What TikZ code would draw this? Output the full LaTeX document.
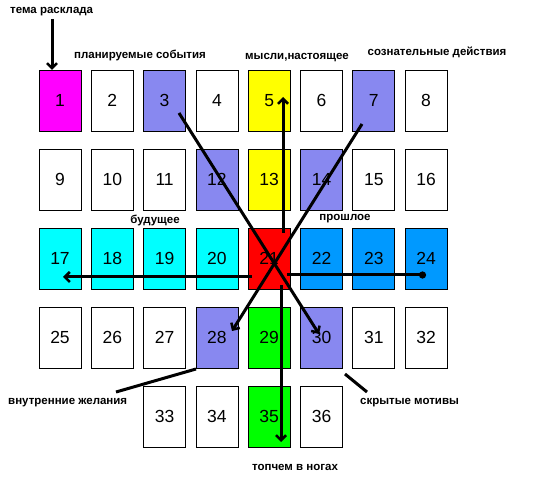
\documentclass[tikz,border=0pt]{standalone}
\usepackage{fontspec}
\setmainfont{Liberation Sans}
\usetikzlibrary{arrows.meta}
\definecolor{cmag}{RGB}{255,0,255}
\definecolor{cyel}{RGB}{255,255,0}
\definecolor{chat}{RGB}{136,136,240}
\definecolor{ccya}{RGB}{0,255,255}
\definecolor{cred}{RGB}{255,0,0}
\definecolor{cblu}{RGB}{0,153,255}
\definecolor{cgrn}{RGB}{0,255,0}
\tikzset{
  card/.style={draw=black, line width=0.8pt, minimum width=42pt, minimum height=61pt, inner sep=0pt, font=\fontsize{17.5}{18}\selectfont, fill=white},
  lbl/.style={font=\bfseries\fontsize{11.5}{12}\selectfont, inner sep=0pt},
  arr/.style={line width=3pt, -{Straight Barb[length=5pt,width=10pt,line width=2.5pt]}},
  dotarr/.style={line width=3pt, -{Circle[length=7pt]}},
  plain/.style={line width=3pt},
}
\begin{document}
\begin{tikzpicture}[x=1pt,y=-1pt]
\useasboundingbox (0,0) rectangle (549,478);
% cards
\foreach \n/\c/\r/\f in {1/0/0/cmag,2/1/0/white,3/2/0/chat,4/3/0/white,5/4/0/cyel,6/5/0/white,7/6/0/chat,8/7/0/white,
  9/0/1/white,10/1/1/white,11/2/1/white,12/3/1/chat,13/4/1/cyel,14/5/1/chat,15/6/1/white,16/7/1/white,
  17/0/2/ccya,18/1/2/ccya,19/2/2/ccya,20/3/2/ccya,21/4/2/cred,22/5/2/cblu,23/6/2/cblu,24/7/2/cblu,
  25/0/3/white,26/1/3/white,27/2/3/white,28/3/3/chat,29/4/3/cgrn,30/5/3/chat,31/6/3/white,32/7/3/white,
  33/2/4/white,34/3/4/white,35/4/4/cgrn,36/5/4/white}
  \node[card, fill=\f] (c\n) at ({60+52.3*\c},{100.5+79*\r}) {\n};
% labels
\node[lbl, anchor=west] (ltema) at (10,12) {тема расклада};
\node[lbl] (lplan) at (140,55) {планируемые события};
\node[lbl] (lmysl) at (297,58) {мысли,настоящее};
\node[lbl] (lsozn) at (437,52) {сознательные действия};
\node[lbl] (lbud) at (155,220) {будущее};
\node[lbl] (lpro) at (345,219) {прошлое};
\node[lbl, anchor=west] (lvnut) at (8,403) {внутренние желания};
\node[lbl, anchor=west] (lskr) at (360,403) {скрытые мотивы};
\node[lbl] (ltop) at (295,467) {топчем в ногах};
% helper coordinates
\coordinate (t0) at (52,19);
\coordinate (t1) at (52,70);
\coordinate (h0) at (252,277);
\coordinate (h1) at (63,277);
\coordinate (p0) at (287,275);
\coordinate (p1) at (426,275);
\coordinate (u0) at (283,233);
\coordinate (u1) at (283,97);
\coordinate (d0) at (281,285);
\coordinate (d1) at (281,442);
\coordinate (a0) at (179,113);
\coordinate (a1) at (319,334);
\coordinate (b0) at (362,124);
\coordinate (b1) at (232,331);
\coordinate (v0) at (196,369);
\coordinate (v1) at (116,392);
\coordinate (s0) at (345,374);
\coordinate (s1) at (367,392);
% connectors
\draw[arr] (t0) -- (t1);
\draw[arr] (h0) -- (h1);
\draw[dotarr] (p0) -- (p1);
\draw[arr] (u0) -- (u1);
\draw[arr] (d0) -- (d1);
\draw[arr] (a0) -- (a1);
\draw[arr] (b0) -- (b1);
\draw[plain] (v0) -- (v1);
\draw[plain] (s0) -- (s1);
\end{tikzpicture}
\end{document}
